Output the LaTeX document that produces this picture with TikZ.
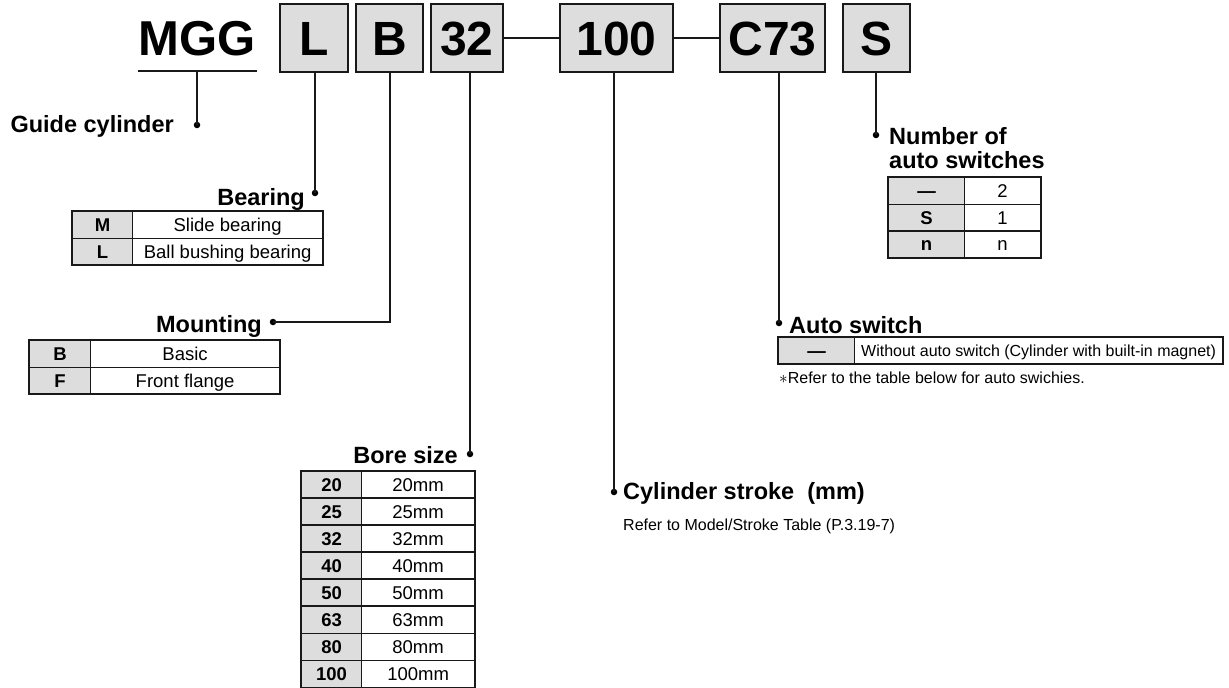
\documentclass[tikz,border=0pt]{standalone}
\usepackage{fontspec}
\setmainfont{Liberation Sans}
\usetikzlibrary{positioning,calc}
\definecolor{keygray}{RGB}{221,221,221}
\definecolor{rule}{RGB}{25,25,25}

\begin{document}
\begin{tikzpicture}[x=1pt,y=-1pt]
			\def\rowh{26.5}
			\def\boreh{27.1}

			\tikzset{line/.style={draw=rule,line width=2pt}}
			\tikzset{codebox/.style={line,fill=keygray,inner sep=0pt,minimum height=68pt,font=\fontsize{48}{48}\selectfont\bfseries,text height=34.4pt,text depth=0pt}}
			\tikzset{head/.style={inner sep=0pt,font=\fontsize{23.5}{24}\selectfont\bfseries}}
			\tikzset{note/.style={inner sep=0pt,font=\fontsize{16}{18}\selectfont}}
			\tikzset{dot/.style={shape=circle,fill=black,inner sep=0pt,minimum size=6.5pt}}
			\tikzset{cell/.style={draw=rule,line width=1.2pt,inner sep=0pt,anchor=north west,minimum height=\rowh pt,text height=13.3pt,text depth=0pt,font=\fontsize{18.5}{20}\selectfont}}
			\tikzset{key/.style={cell,fill=keygray,font=\fontsize{18.5}{20}\selectfont\bfseries}}
			\tikzset{frame/.style={draw=rule,line width=1.8pt}}

			\useasboundingbox (0,0) rectangle (1229,688);

			% model code
			\node[inner sep=0pt,anchor=base,font=\fontsize{49}{49}\selectfont\bfseries] (mgg) at (197,55) {MGG};
			\coordinate (ulL) at (138,71);
			\coordinate (ulR) at (257,71);
			\path[line] (ulL) to (ulR);

			\node[codebox,minimum width=68pt] (bear) at (314,38) {L};
			\node[codebox,minimum width=67pt] (mount) at (389.5,38) {B};
			\node[codebox,minimum width=72pt] (bore) at (467,38) {32};
			\node[codebox,minimum width=113pt] (stroke) at (616.5,38) {100};
			\node[codebox,minimum width=105pt] (sw) at (772.5,38) {C73};
			\node[codebox,minimum width=67pt] (swn) at (876.5,38) {S};

			\path[line,line width=2.6pt] (bore.east) to (stroke.west);
			\path[line,line width=2.6pt] (stroke.east) to (sw.west);

			% guide cylinder
			\node[dot] (dGuide) at (197,125) {};
			\node[head,anchor=base east] (hGuide) at (174,132) {Guide cylinder};
			\path[line] (dGuide.center) to (dGuide.center |- ulL);

			% bearing
			\node[dot] (dBear) at (315,193) {};
			\node[head,anchor=base east] (hBear) at (305,205) {Bearing};
			\path[line] (dBear.center) to (dBear.center |- bear.south);

			\node[key,minimum width=60pt] (bM) at (72,211) {M};
			\node[cell,minimum width=190pt] (bMv) at (132,211) {Slide bearing};
			\node[key,minimum width=60pt] (bL) at (72,237.5) {L};
			\node[cell,minimum width=190pt] (bLv) at (132,237.5) {Ball bushing bearing};
			\path[frame] (bM.north west) rectangle (bLv.south east);

			% mounting
			\node[dot] (dMount) at (273,322) {};
			\node[head,anchor=base east] (hMount) at (262,332) {Mounting};
			\path[line] (dMount.center) -| (mount.south);

			\node[key,minimum width=61pt] (mB) at (29,340) {B};
			\node[cell,minimum width=189pt] (mBv) at (90,340) {Basic};
			\node[key,minimum width=61pt] (mF) at (29,366.5) {F};
			\node[cell,minimum width=189pt] (mFv) at (90,366.5) {Front flange};
			\path[frame] (mB.north west) rectangle (mFv.south east);

			% bore size
			\node[dot] (dBore) at (470,454) {};
			\node[head,anchor=base east] (hBore) at (458,463) {Bore size};
			\path[line] (dBore.center) to (dBore.center |- bore.south);

			\foreach \v [count=\i from 0] in {20,25,32,40,50,63,80,100} {
				\node[key,minimum width=60pt] (k\v) at (301,{470.5+\i*\boreh}) {\v};
				\node[cell,minimum width=113pt] (v\v) at (361,{470.5+\i*\boreh}) {\v mm};
			}
			\path[frame] (k20.north west) rectangle (v100.south east);

			% cylinder stroke
			\node[dot] (dStroke) at (614,492) {};
			\node[head,anchor=base west] (hStroke) at (623,499) {Cylinder stroke~~(mm)};
			\node[note,anchor=base west] (nStroke) at (623,530) {Refer to Model/Stroke Table (P.3.19-7)};
			\path[line] (dStroke.center) to (dStroke.center |- stroke.south);

			% auto switch
			\node[dot] (dSw) at (779,323) {};
			\node[head,anchor=base west] (hSw) at (789,333) {Auto switch};
			\path[line] (dSw.center) to (dSw.center |- sw.south);

			\node[key,minimum width=76pt,minimum height=26pt] (sNone) at (778,337) {—};
			\node[cell,minimum width=368pt,minimum height=26pt,font=\fontsize{16}{18}\selectfont,text height=11.5pt] (sNonev) at (854,337) {Without auto switch (Cylinder with built-in magnet)};
			\path[frame] (sNone.north west) rectangle (sNonev.south east);
			\node[note,anchor=base west] (nSw) at (779,383) {$\ast$Refer to the table below for auto swichies.};

			% number of auto switches
			\node[dot] (dNum) at (876,135) {};
			\node[head,anchor=base west] (hNum) at (889,144) {Number of};
			\node[head,anchor=base west] (hNum2) at (889,168) {auto switches};
			\path[line] (dNum.center) to (dNum.center |- swn.south);

			\node[key,minimum width=76pt] (n2) at (888,177) {—};
			\node[cell,minimum width=76pt] (n2v) at (964,177) {2};
			\node[key,minimum width=76pt] (n1) at (888,203.7) {S};
			\node[cell,minimum width=76pt] (n1v) at (964,203.7) {1};
			\node[key,minimum width=76pt] (nn) at (888,230.4) {n};
			\node[cell,minimum width=76pt] (nnv) at (964,230.4) {n};
			\path[frame] (n2.north west) rectangle (nnv.south east);
		\end{tikzpicture}
\end{document}
